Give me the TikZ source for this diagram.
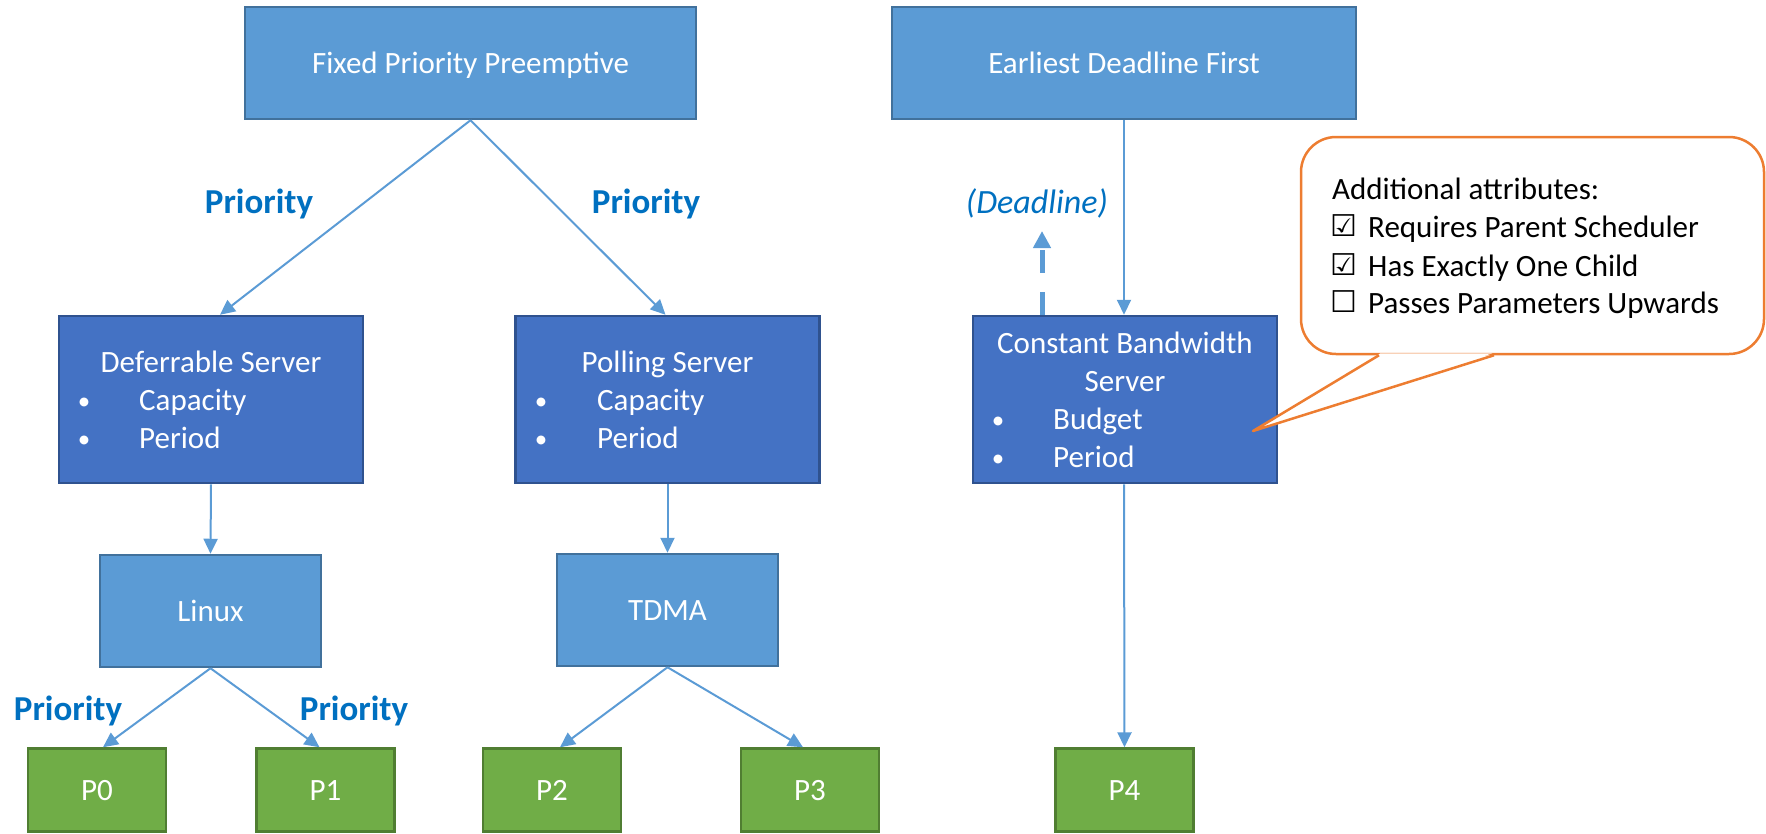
\documentclass[tikz,border=0pt]{standalone}
\usepackage{fontspec}
\setmainfont{Carlito}
\newfontfamily\symfont{DejaVu Sans}
\usetikzlibrary{arrows.meta}
\definecolor{lb}{HTML}{5B9BD5}
\definecolor{lbd}{HTML}{41719C}
\definecolor{db}{HTML}{4472C4}
\definecolor{dbd}{HTML}{2F528F}
\definecolor{gr}{HTML}{70AD47}
\definecolor{grd}{HTML}{507E32}
\definecolor{lab}{HTML}{0070C0}
\definecolor{org}{HTML}{ED7D31}
\begin{document}
\begin{tikzpicture}[x=1pt,y=-1pt,
  sbox/.style={draw, line width=2.5pt, inner sep=0pt, text=white,
    font=\fontsize{31}{38}\selectfont, text height=20pt, text depth=0pt},
  lbox/.style={sbox, fill=lb, draw=lbd},
  dbox/.style={sbox, fill=db, draw=dbd, minimum width=304pt, minimum height=167pt},
  gbox/.style={sbox, fill=gr, draw=grd, minimum width=138pt, minimum height=83pt},
  txt/.style={text=white, font=\fontsize{31}{38}\selectfont, inner sep=0pt},
  bul/.style={text=white, font=\fontsize{25}{30}\selectfont, inner sep=0pt, anchor=base},
  ntxt/.style={text=black, font=\fontsize{31}{38}\selectfont, inner sep=0pt, anchor=base west},
  chk/.style={text=black, font=\symfont\fontsize{30}{34}\selectfont, inner sep=0pt, anchor=base west},
  conn/.style={draw=lb, line width=2pt, -{Triangle[length=15pt,width=14pt]}},
  prio/.style={text=lab, font=\fontsize{35}{40}\selectfont\bfseries, inner sep=0pt, anchor=base},
  ]
\useasboundingbox (0,0) rectangle (1766,833);

% top schedulers
\node[lbox, minimum width=451pt, minimum height=112pt] (fpp) at (470.5,63) {Fixed Priority Preemptive};
\node[lbox, minimum width=464pt, minimum height=112pt] (edf) at (1124,63) {Earliest Deadline First};

% servers
\node[dbox] (ds) at (211,399.5) {};
\node[txt, anchor=base] (dst) at (211,372) {Deferrable Server};
\node[bul] (dsb1) at (84,409) {•};
\node[txt, anchor=base west] (dsi1) at (139,410) {Capacity};
\node[bul] (dsb2) at (84,447) {•};
\node[txt, anchor=base west] (dsi2) at (139,448) {Period};

\node[dbox] (ps) at (667.5,399.5) {};
\node[txt, anchor=base] (pst) at (667.5,372) {Polling Server};
\node[bul] (psb1) at (541,409) {•};
\node[txt, anchor=base west] (psi1) at (597,410) {Capacity};
\node[bul] (psb2) at (541,447) {•};
\node[txt, anchor=base west] (psi2) at (597,448) {Period};

\node[dbox] (cbs) at (1125,399.5) {};
\node[txt, anchor=base] (cbst1) at (1125,353) {Constant Bandwidth};
\node[txt, anchor=base] (cbst2) at (1125,391) {Server};
\node[bul] (cbsb1) at (998,428) {•};
\node[txt, anchor=base west] (cbsi1) at (1053,429) {Budget};
\node[bul] (cbsb2) at (998,466) {•};
\node[txt, anchor=base west] (cbsi2) at (1053,467) {Period};

% second level
\node[lbox, minimum width=221pt, minimum height=112pt] (linux) at (210.5,611) {Linux};
\node[lbox, minimum width=221pt, minimum height=112pt] (tdma) at (667.5,610) {TDMA};

% processes
\node[gbox] (p0) at (97,790) {P0};
\node[gbox] (p1) at (325.5,790) {P1};
\node[gbox] (p2) at (552,790) {P2};
\node[gbox] (p3) at (810,790) {P3};
\node[gbox] (p4) at (1124.5,790) {P4};

% connectors
\draw[conn] (fpp.south) -- ([xshift=9pt]ds.north);
\draw[conn] (fpp.south) -- ([xshift=-2pt]ps.north);
\draw[conn] (edf.south) -- ([xshift=-1pt]cbs.north);
\draw[conn] (ds.south) -- (linux.north);
\draw[conn] (ps.south) -- (tdma.north);
\draw[conn] (linux.south) -- ([xshift=6pt]p0.north);
\draw[conn] (linux.south) -- ([xshift=-6pt]p1.north);
\draw[conn] (tdma.south) -- ([xshift=8pt]p2.north);
\draw[conn] (tdma.south) -- ([xshift=-7pt]p3.north);
\draw[conn] ([xshift=-1pt]cbs.south) -- (p4.north);

% labels
\node[prio] (l1) at (259,213) {Priority};
\node[prio] (l2) at (646,213) {Priority};
\node[prio] (l3) at (68,720) {Priority};
\node[prio] (l4) at (354,720) {Priority};
\node[text=lab, font=\fontsize{34}{40}\selectfont\itshape, inner sep=0pt, anchor=base] (dl) at (1037,213) {(Deadline)};

% dashed upward arrow
\coordinate (dltip) at (1042,231);
\draw[draw=lb, line width=5pt, dash pattern=on 23pt off 19pt, -{Triangle[length=17pt,width=17pt]}]
  ([xshift=-83pt]cbs.north) -- (dltip);

% callout
\node[draw=org, line width=2.5pt, fill=white, rounded corners=35pt, minimum width=463pt, minimum height=217pt, inner sep=0pt] (note) at (1532.5,245.5) {};
\coordinate (tip) at (1253,431);
\fill[white] ([xshift=-152pt, yshift=2pt]note.south) -- (tip) -- ([xshift=-40pt,yshift=2pt]note.south) -- cycle;
\draw[draw=org, line width=2.5pt, line join=round] ([xshift=-153.5pt]note.south) -- (tip) -- ([xshift=-38.5pt]note.south);

\node[ntxt] (n1) at (1332,199) {Additional attributes:};
\node[chk] (c2) at (1330,236) {☑};
\node[ntxt] (n2) at (1368,237) {Requires Parent Scheduler};
\node[chk] (c3) at (1330,275) {☑};
\node[ntxt] (n3) at (1368,276) {Has Exactly One Child};
\node[chk] (c4) at (1330,312) {☐};
\node[ntxt] (n4) at (1368,313) {Passes Parameters Upwards};
\end{tikzpicture}
\end{document}
